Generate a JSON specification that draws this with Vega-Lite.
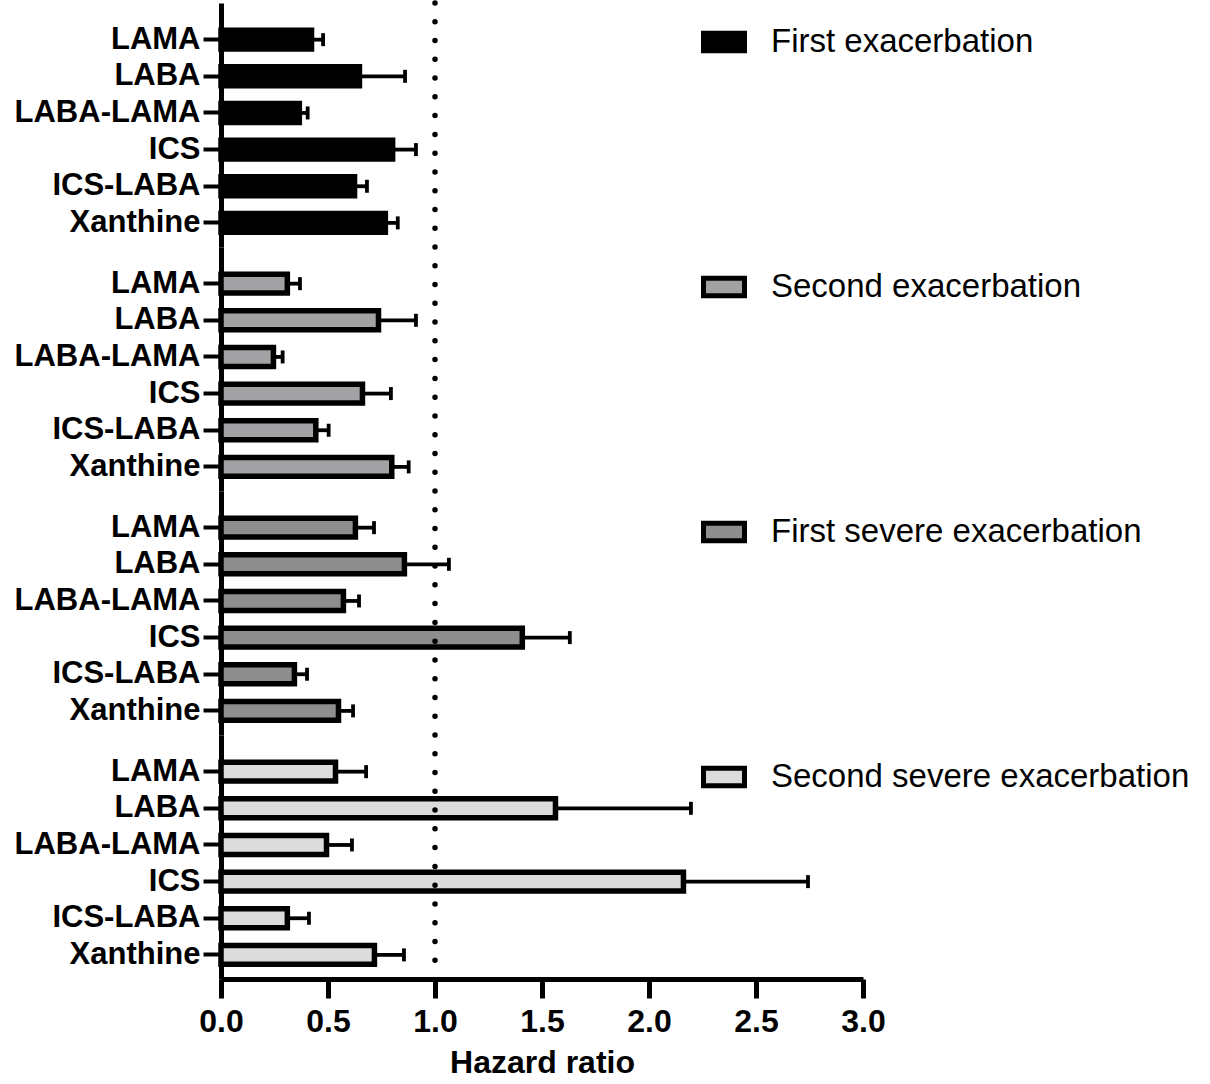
{
  "$schema": "https://vega.github.io/schema/vega-lite/v6.json",
  "background": "white",
  "padding": {"left": 14, "top": 0, "right": 5, "bottom": 5},
  "bounds": "flush",
  "data": {"values": [
    {"group": "First exacerbation", "drug": "LAMA", "hr": 0.423, "upper": 0.477},
    {"group": "First exacerbation", "drug": "LABA", "hr": 0.647, "upper": 0.86},
    {"group": "First exacerbation", "drug": "LABA-LAMA", "hr": 0.366, "upper": 0.405},
    {"group": "First exacerbation", "drug": "ICS", "hr": 0.802, "upper": 0.911},
    {"group": "First exacerbation", "drug": "ICS-LABA", "hr": 0.624, "upper": 0.682},
    {"group": "First exacerbation", "drug": "Xanthine", "hr": 0.768, "upper": 0.826},
    {"group": "Second exacerbation", "drug": "LAMA", "hr": 0.31, "upper": 0.369},
    {"group": "Second exacerbation", "drug": "LABA", "hr": 0.736, "upper": 0.911},
    {"group": "Second exacerbation", "drug": "LABA-LAMA", "hr": 0.245, "upper": 0.288},
    {"group": "Second exacerbation", "drug": "ICS", "hr": 0.661, "upper": 0.794},
    {"group": "Second exacerbation", "drug": "ICS-LABA", "hr": 0.443, "upper": 0.503},
    {"group": "Second exacerbation", "drug": "Xanthine", "hr": 0.798, "upper": 0.877},
    {"group": "First severe exacerbation", "drug": "LAMA", "hr": 0.628, "upper": 0.715},
    {"group": "First severe exacerbation", "drug": "LABA", "hr": 0.857, "upper": 1.065},
    {"group": "First severe exacerbation", "drug": "LABA-LAMA", "hr": 0.572, "upper": 0.645},
    {"group": "First severe exacerbation", "drug": "ICS", "hr": 1.408, "upper": 1.63},
    {"group": "First severe exacerbation", "drug": "ICS-LABA", "hr": 0.343, "upper": 0.402},
    {"group": "First severe exacerbation", "drug": "Xanthine", "hr": 0.549, "upper": 0.617},
    {"group": "Second severe exacerbation", "drug": "LAMA", "hr": 0.535, "upper": 0.678},
    {"group": "Second severe exacerbation", "drug": "LABA", "hr": 1.563, "upper": 2.196},
    {"group": "Second severe exacerbation", "drug": "LABA-LAMA", "hr": 0.493, "upper": 0.612},
    {"group": "Second severe exacerbation", "drug": "ICS", "hr": 2.161, "upper": 2.743},
    {"group": "Second severe exacerbation", "drug": "ICS-LABA", "hr": 0.31, "upper": 0.411},
    {"group": "Second severe exacerbation", "drug": "Xanthine", "hr": 0.717, "upper": 0.855}
  ]},
  "spacing": {"row": 0, "column": 0},
  "facet": {
    "row": {
      "field": "group", "type": "nominal",
      "sort": ["First exacerbation", "Second exacerbation", "First severe exacerbation", "Second severe exacerbation"],
      "header": {"labels": false, "title": null, "labelPadding": 0, "titlePadding": 0},
      "title": null
    }
  },
  "spec": {
    "width": 642,
    "height": 244,
    "layer": [
      {
        "mark": {"type": "bar", "stroke": "black", "strokeWidth": 5.5},
        "encoding": {
          "y": {
            "field": "drug", "type": "nominal",
            "sort": ["LAMA", "LABA", "LABA-LAMA", "ICS", "ICS-LABA", "Xanthine"],
            "scale": {"paddingInner": 0.484, "paddingOuter": 0.571, "align": 0.65},
            "axis": {"title": null, "domainWidth": 5, "tickWidth": 4, "tickSize": 18, "labelPadding": 3, "labelLimit": 400, "labelFontSize": 31, "labelFontWeight": "bold", "domainColor": "black", "tickColor": "black", "labelColor": "black"}
          },
          "x": {
            "field": "hr", "type": "quantitative",
            "scale": {"domain": [0, 3], "nice": false, "zero": true},
            "axis": {"title": "Hazard ratio", "values": [0, 0.5, 1, 1.5, 2, 2.5, 3], "format": ".1f", "grid": false, "labelFlush": false, "domainWidth": 5, "tickWidth": 5, "tickSize": 19, "labelPadding": 8, "labelFontSize": 32, "labelFontWeight": "bold", "titleFontSize": 32, "titleFontWeight": "bold", "titlePadding": 10, "domainColor": "black", "tickColor": "black", "labelColor": "black", "titleColor": "black"}
          },
          "fill": {
            "field": "group", "type": "nominal",
            "scale": {
              "domain": ["First exacerbation", "Second exacerbation", "First severe exacerbation", "Second severe exacerbation"],
              "range": ["#000000", "#a2a2a5", "#8e8e8e", "#dcdcdc"]
            },
            "legend": {
              "title": null, "orient": "none", "legendX": 480, "legendY": 16,
              "symbolType": "M-1,-0.43H1V0.43H-1Z", "symbolSize": 1681,
              "symbolStrokeColor": "black", "symbolStrokeWidth": 5,
              "labelFontSize": 33, "labelColor": "black", "labelOffset": 24,
              "rowPadding": 203, "labelLimit": 600
            }
          }
        }
      },
      {
        "mark": {"type": "rule", "strokeWidth": 3.8, "color": "black"},
        "encoding": {
          "y": {"field": "drug", "type": "nominal", "sort": ["LAMA", "LABA", "LABA-LAMA", "ICS", "ICS-LABA", "Xanthine"]},
          "x": {"field": "hr", "type": "quantitative"},
          "x2": {"field": "upper"}
        }
      },
      {
        "mark": {"type": "tick", "thickness": 3.8, "size": 13, "color": "black", "orient": "vertical", "opacity": 1},
        "encoding": {
          "y": {"field": "drug", "type": "nominal", "sort": ["LAMA", "LABA", "LABA-LAMA", "ICS", "ICS-LABA", "Xanthine"]},
          "x": {"field": "upper", "type": "quantitative"}
        }
      },
      {
        "transform": [{"filter": "datum.drug == 'LAMA'"}],
        "mark": {"type": "rule", "strokeWidth": 5.5, "strokeDash": [0, 18.77], "strokeCap": "round", "color": "black"},
        "encoding": {"x": {"datum": 1}}
      }
    ]
  },
  "config": {
    "font": "Liberation Sans",
    "view": {"stroke": null},
    "axis": {"grid": false}
  }
}
